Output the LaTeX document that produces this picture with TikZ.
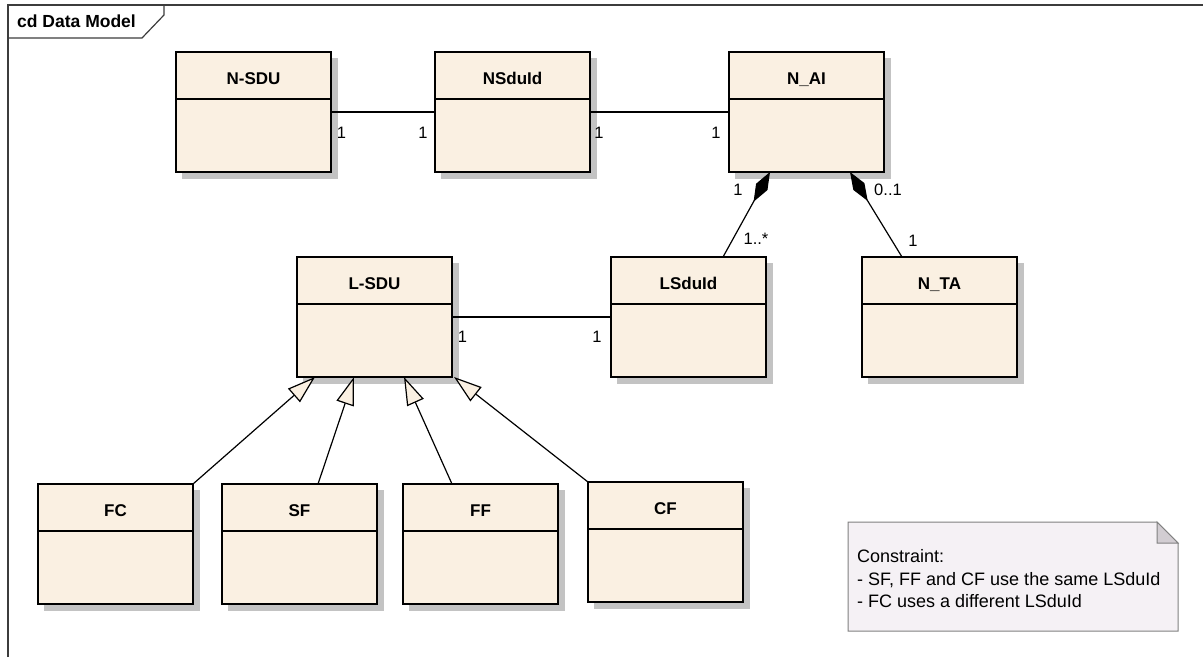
\documentclass[tikz,border=0pt]{standalone}
\usepackage{fontspec}
\setmainfont{Liberation Sans}
\usetikzlibrary{arrows.meta,calc}
\definecolor{clsbg}{RGB}{250,240,226}
\definecolor{shadowc}{RGB}{195,195,195}
\definecolor{notebg}{RGB}{245,241,245}
\definecolor{notefold}{RGB}{210,205,210}
\definecolor{noteline}{RGB}{128,128,128}
\definecolor{framec}{RGB}{60,60,60}
\tikzset{
 cls/.style={draw=black, line width=1.4pt, fill=clsbg, minimum width=155pt, minimum height=120pt,
   inner sep=0pt, outer sep=0pt},
 clsshadow/.style={fill=shadowc},
 clstitle/.style={font=\fontsize{17}{19}\selectfont\bfseries, inner sep=0pt, anchor=base},
 mult/.style={font=\fontsize{16.5}{18}\selectfont, inner sep=0pt},
 assoc/.style={line width=1.2pt},
 comp/.style={line width=1.2pt, {Diamond[length=34pt,width=13pt]}-},
 gen/.style={line width=1.2pt, -{Triangle[open,length=28pt,width=18pt,fill=clsbg]}},
 notetext/.style={font=\fontsize{18}{20}\selectfont, inner sep=0pt, anchor=base west},
}
\newcommand\umlcls[4]{%
 \fill[clsshadow] (#2-72,#3-54) rectangle (#2+84,#3+66.5);
 \node[cls] (#1) at (#2,#3) {};
 \node[clstitle] (#1-t) at ([yshift=-32.5pt]#1.north) {#4};
 \draw[line width=1.4pt] ([yshift=-47pt]#1.north west) -- ([yshift=-47pt]#1.north east);
}
\begin{document}
\begin{tikzpicture}[x=1pt,y=-1pt]
\useasboundingbox (0,0) rectangle (1203,657);
% frame
\draw[framec, line width=1.6pt] (8,657) -- (8,5) -- (1203,5);
\draw[framec, line width=1.2pt] (8,38) -- (142,38) -- (164,15) -- (164,5);
\node[anchor=base west, inner sep=0pt, font=\fontsize{17.5}{19}\selectfont\bfseries] (frametitle) at (17,27) {cd Data Model};
% classes
\umlcls{nsdu}{253.5}{112}{N-SDU}
\umlcls{nsduid}{512.5}{112}{NSduId}
\umlcls{nai}{806.5}{112}{N\_AI}
\umlcls{lsdu}{374.5}{317}{L-SDU}
\umlcls{lsduid}{688.5}{317}{LSduId}
\umlcls{nta}{939.5}{317}{N\_TA}
\umlcls{fc}{115.5}{544}{FC}
\umlcls{sf}{299.5}{544}{SF}
\umlcls{ff}{480.5}{544}{FF}
\umlcls{cf}{665.5}{542}{CF}
% associations
\draw[assoc] (nsdu.east) -- (nsduid.west);
\draw[assoc] (nsduid.east) -- (nai.west);
\draw[assoc] (lsdu.east) -- (lsduid.west);
\node[mult] (m1) at (341.5,132.5) {1};
\node[mult] (m2) at (423,132.5) {1};
\node[mult] (m3) at (599,132.5) {1};
\node[mult] (m4) at (716,132.5) {1};
\node[mult] (m5) at (462.5,336.5) {1};
\node[mult] (m6) at (597,336.5) {1};
% compositions
\draw[comp] ([xshift=-36.5pt]nai.south) -- ([xshift=34.5pt]lsduid.north);
\draw[comp] ([xshift=43.5pt]nai.south) -- ([xshift=-37.5pt]nta.north);
\node[mult] (m7) at (738,190) {1};
\node[mult] (m8) at (756,239) {1..*};
\node[mult] (m9) at (888,190) {0..1};
\node[mult] (m10) at (913,241) {1};
% generalizations
\draw[gen] (fc.north east) -- ([xshift=-59.5pt]lsdu.south);
\draw[gen] ([xshift=18.5pt]sf.north) -- ([xshift=-20.5pt]lsdu.south);
\draw[gen] ([xshift=-28.5pt]ff.north) -- ([xshift=29.5pt]lsdu.south);
\draw[gen] (cf.north west) -- ([xshift=2pt]lsdu.south east);
% note
\draw[fill=notebg, draw=noteline, line width=1pt] (848,522) -- (1157,522) -- (1178,543) -- (1178,631) -- (848,631) -- cycle;
\draw[fill=notefold, draw=noteline, line width=1pt] (1157,522) -- (1157,543) -- (1178,543) -- cycle;
\node[notetext] (note1) at (857,562) {Constraint:};
\node[notetext] (note2) at (857,585) {- SF, FF and CF use the same LSduId};
\node[notetext] (note3) at (857,607.5) {- FC uses a different LSduId};
\end{tikzpicture}
\end{document}
